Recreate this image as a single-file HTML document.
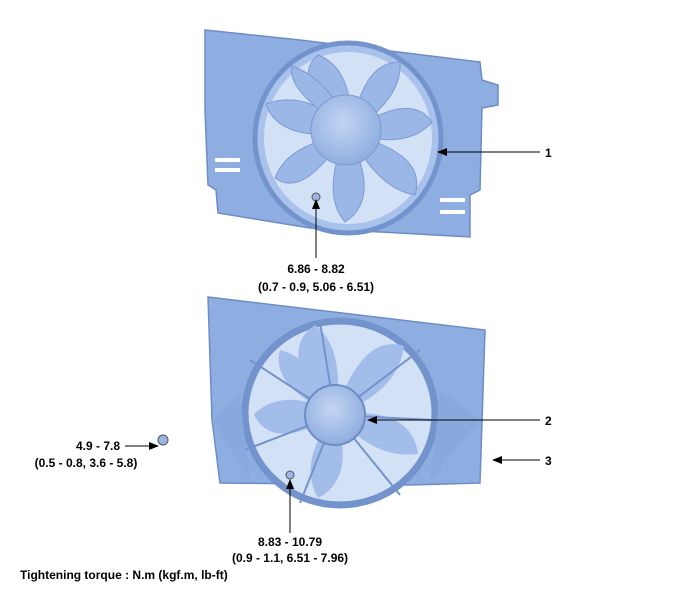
<!DOCTYPE html>
<html><head><style>
body{margin:0;background:#fff}
svg{display:block}
text{font-family:"Liberation Sans",Arial,sans-serif;font-weight:bold;font-size:12px;fill:#000}
</style></head><body>
<svg width="700" height="602" viewBox="0 0 700 602" xmlns="http://www.w3.org/2000/svg">
<defs>
<marker id="a" markerWidth="10" markerHeight="8" refX="9" refY="4" orient="auto" markerUnits="userSpaceOnUse"><path d="M0,0 L10,4 L0,8 Z" fill="#000"/></marker>
<radialGradient id="g" cx="0.45" cy="0.4" r="0.7"><stop offset="0" stop-color="#c3d6f3"/><stop offset="1" stop-color="#86a6dc"/></radialGradient>
</defs>
<!-- top fan -->
<path d="M205,30 L300,40 L480,62 L482,80 L498,85 L498,105 L482,108 L480,190 L470,195 L470,237 L380,232 L310,228 L218,213 L216,190 L208,185 L205,110 Z" fill="#8eaee2" stroke="#6d8cc4" stroke-width="1.5"/>
<ellipse cx="348" cy="138" rx="93" ry="95" fill="#a9c2ec" stroke="#7393cc" stroke-width="5"/>
<ellipse cx="348" cy="138" rx="84" ry="86" fill="#d3e1f6"/>
<g fill="#9ab7e8" stroke="#7c9bd2" stroke-width="1">
<path d="M348,133 C315,100 295,75 318,55 C345,65 355,100 348,133Z"/>
<path d="M348,133 C360,95 368,62 400,62 C402,92 378,115 348,133Z"/>
<path d="M348,133 C385,108 415,98 432,122 C412,145 380,142 348,133Z"/>
<path d="M348,133 C392,145 425,162 415,195 C385,190 365,162 348,133Z"/>
<path d="M348,133 C368,172 372,205 345,222 C326,200 332,165 348,133Z"/>
<path d="M348,133 C322,168 298,195 275,178 C285,150 318,140 348,133Z"/>
<path d="M348,133 C308,138 275,132 266,104 C298,92 330,108 348,133Z"/>
<path d="M348,133 C318,108 287,88 292,66 C320,76 342,103 348,133Z"/>
</g>
<circle cx="346" cy="130" r="35" fill="url(#g)" stroke="#7b9ad0"/>
<path d="M215,160 h25 M215,170 h25 M440,200 h25 M440,212 h25" stroke="#fff" stroke-width="4"/>
<!-- bottom fan -->
<path d="M208,297 L485,330 L480,483 L410,485 L220,483 L212,420 Z" fill="#8eaee2" stroke="#6d8cc4" stroke-width="1.5"/>
<ellipse cx="340" cy="413" rx="95" ry="92" fill="#d3e1f6" stroke="#7393cc" stroke-width="7"/>
<g fill="#a2bdea">
<path d="M335,415 C298,380 285,345 315,325 C338,342 342,380 335,415Z"/>
<path d="M335,415 C350,368 372,336 404,346 C400,380 372,402 335,415Z"/>
<path d="M335,415 C382,408 414,420 418,454 C386,458 360,442 335,415Z"/>
<path d="M335,415 C348,452 346,484 318,498 C302,470 314,440 335,415Z"/>
<path d="M335,415 C298,438 266,442 254,414 C278,392 310,398 335,415Z"/>
<path d="M335,415 C300,400 272,378 280,350 C305,355 325,385 335,415Z"/>
</g>
<g stroke="#7393cc" stroke-width="2">
<line x1="335" y1="415" x2="250" y2="360"/><line x1="335" y1="415" x2="320" y2="322"/><line x1="335" y1="415" x2="420" y2="350"/>
<line x1="335" y1="415" x2="432" y2="420"/><line x1="335" y1="415" x2="400" y2="495"/><line x1="335" y1="415" x2="300" y2="503"/><line x1="335" y1="415" x2="245" y2="450"/>
</g>
<path d="M212,420 L240,395 L250,480 Z M480,420 L440,390 L430,480 Z" fill="#86a6dc" opacity="0.7"/>
<circle cx="335" cy="415" r="30" fill="url(#g)" stroke="#6d8cc4" stroke-width="2"/>
<circle cx="163" cy="440" r="5" fill="#9bb6e4" stroke="#555"/>
<circle cx="290" cy="475" r="4" fill="#9bb6e4" stroke="#555"/>
<circle cx="316" cy="197" r="4" fill="#9bb6e4" stroke="#555"/>
<!-- leaders -->
<g stroke="#000" stroke-width="1" fill="none">
<line x1="540" y1="152" x2="438" y2="152" marker-end="url(#a)"/>
<line x1="316" y1="258" x2="316" y2="200" marker-end="url(#a)"/>
<line x1="540" y1="420" x2="368" y2="420" marker-end="url(#a)"/>
<line x1="540" y1="460" x2="493" y2="460" marker-end="url(#a)"/>
<line x1="125" y1="446" x2="158" y2="446" marker-end="url(#a)"/>
<line x1="290" y1="533" x2="290" y2="480" marker-end="url(#a)"/>
</g>
<text x="545" y="157">1</text>
<text x="545" y="425">2</text>
<text x="545" y="465">3</text>
<text x="316" y="273" text-anchor="middle">6.86 - 8.82</text>
<text x="316" y="291" text-anchor="middle">(0.7 - 0.9, 5.06 - 6.51)</text>
<text x="120" y="450" text-anchor="end">4.9 - 7.8</text>
<text x="86" y="467" text-anchor="middle">(0.5 - 0.8, 3.6 - 5.8)</text>
<text x="290" y="546" text-anchor="middle">8.83 - 10.79</text>
<text x="290" y="562" text-anchor="middle">(0.9 - 1.1, 6.51 - 7.96)</text>
<text x="20" y="579">Tightening torque : N.m (kgf.m, lb-ft)</text>
</svg>
</body></html>
